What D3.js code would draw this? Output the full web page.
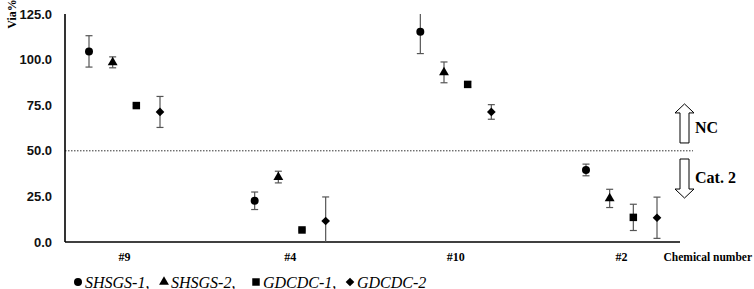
<!DOCTYPE html>
<html>
<head>
<meta charset="utf-8">
<script src="https://cdn.jsdelivr.net/npm/d3@7"></script>
<style>
  body { margin: 0; background: #fff; }
  svg { display: block; }
</style>
</head>
<body>
<script>
var width = 754;
var height = 289;

// data
var categories = ["#9", "#4", "#10", "#2"];
var seriesNames = ["SHSGS-1", "SHSGS-2", "GDCDC-1", "GDCDC-2"];
var shsgs1 = [104.5, 22.6, 115.3, 39.5];
var shsgs1Err = [8.6, 4.8, 12, 3.2];
var shsgs2 = [98.5, 35.6, 93, 23.9];
var shsgs2Err = [3, 3.2, 5.7, 5];
var gdcdc1 = [74.8, 6.6, 86.4, 13.5];
var gdcdc1Err = [0.8, 0.5, 1.5, 7.2];
var gdcdc2 = [71.3, 11.5, 71.3, 13.3];
var gdcdc2Err = [8.5, 13.2, 4, 11.3];
var yTicks = [0, 25, 50, 75, 100, 125];
var threshold = 50;

var series = [
  { name: seriesNames[0], values: shsgs1, errs: shsgs1Err, symbol: d3.symbolCircle, size: 50 },
  { name: seriesNames[1], values: shsgs2, errs: shsgs2Err, symbol: d3.symbolTriangle, size: 42 },
  { name: seriesNames[2], values: gdcdc1, errs: gdcdc1Err, symbol: d3.symbolSquare, size: 56 },
  { name: seriesNames[3], values: gdcdc2, errs: gdcdc2Err, symbol: d3.symbolDiamond2, size: 48 }
];

var plot = { left: 65, right: 680, top: 14, bottom: 242 };

var svg = d3.select("body").append("svg")
    .attr("width", width)
    .attr("height", height);

var yScale = d3.scaleLinear()
    .domain([0, 125])
    .range([plot.bottom, plot.top]);
var xGroup = d3.scaleLinear()
    .domain([0, categories.length - 1])
    .range([124.5, 621.5]);
var xSeries = d3.scalePoint()
    .domain(seriesNames)
    .range([-35.5, 35.5]);

// threshold dotted line
svg.append("line")
    .attr("x1", plot.left)
    .attr("x2", 693)
    .attr("y1", yScale(threshold))
    .attr("y2", yScale(threshold))
    .attr("stroke", "#333")
    .attr("stroke-width", 1)
    .attr("stroke-dasharray", "1.5,1.5");

// y axis
var yAxis = d3.axisLeft(yScale)
    .tickValues(yTicks)
    .tickSize(0)
    .tickPadding(13)
    .tickFormat(d3.format(".1f"));
var gy = svg.append("g")
    .attr("transform", "translate(" + plot.left + ",0)")
    .call(yAxis);
gy.select(".domain").remove();
gy.selectAll("text")
    .attr("font-family", "Liberation Sans, Arial, sans-serif")
    .attr("font-weight", "bold")
    .attr("font-size", 13)
    .attr("fill", "#111");

// axis lines
svg.append("line")
    .attr("x1", plot.left).attr("x2", plot.left)
    .attr("y1", plot.top).attr("y2", plot.bottom)
    .attr("stroke", "#000").attr("stroke-width", 1.6);
svg.append("line")
    .attr("x1", plot.left).attr("x2", plot.right)
    .attr("y1", plot.bottom).attr("y2", plot.bottom)
    .attr("stroke", "#000").attr("stroke-width", 1.6);

// category labels
svg.selectAll(".cat")
    .data(categories)
    .enter()
    .append("text")
    .attr("class", "cat")
    .attr("x", function(d, i) { return xGroup(i); })
    .attr("y", 261)
    .attr("text-anchor", "middle")
    .attr("font-family", "Liberation Serif, Times New Roman, serif")
    .attr("font-weight", "bold")
    .attr("font-size", 12)
    .text(function(d) { return d; });

svg.append("text")
    .attr("x", 752)
    .attr("y", 261)
    .attr("text-anchor", "end")
    .attr("font-family", "Liberation Serif, Times New Roman, serif")
    .attr("font-weight", "bold")
    .attr("font-size", 11.5)
    .text("Chemical number");

// y title
svg.append("text")
    .attr("transform", "translate(16,14) rotate(-90)")
    .attr("text-anchor", "middle")
    .attr("font-family", "Liberation Serif, Times New Roman, serif")
    .attr("font-weight", "bold")
    .attr("font-size", 12)
    .text("Via%");

// error bars and markers
var capW = 3.5;
series.forEach(function(s) {
  var g = svg.append("g").attr("class", "series");
  var pts = s.values.map(function(v, i) {
    return { x: xGroup(i) + xSeries(s.name), v: v, e: s.errs[i] };
  });
  var bars = g.selectAll(".err")
      .data(pts)
      .enter()
      .append("g")
      .attr("class", "err")
      .attr("stroke", "#555")
      .attr("stroke-width", 1.2);
  bars.append("line")
      .attr("x1", function(d) { return d.x; })
      .attr("x2", function(d) { return d.x; })
      .attr("y1", function(d) { return yScale(Math.min(125, d.v + d.e)); })
      .attr("y2", function(d) { return yScale(Math.max(0, d.v - d.e)); });
  bars.filter(function(d) { return d.v + d.e <= 125; })
      .append("line")
      .attr("x1", function(d) { return d.x - capW; })
      .attr("x2", function(d) { return d.x + capW; })
      .attr("y1", function(d) { return yScale(d.v + d.e); })
      .attr("y2", function(d) { return yScale(d.v + d.e); });
  bars.filter(function(d) { return d.v - d.e >= 0; })
      .append("line")
      .attr("x1", function(d) { return d.x - capW; })
      .attr("x2", function(d) { return d.x + capW; })
      .attr("y1", function(d) { return yScale(d.v - d.e); })
      .attr("y2", function(d) { return yScale(d.v - d.e); });

  g.selectAll(".mark")
      .data(pts)
      .enter()
      .append("path")
      .attr("class", "mark")
      .attr("d", d3.symbol().type(s.symbol).size(s.size))
      .attr("transform", function(d) { return "translate(" + d.x + "," + yScale(d.v) + ")"; })
      .attr("fill", "#000");
});

// NC / Cat. 2 arrows
function arrow(x, yFrom, yTo) {
  var shaft = 4.5, head = 9.5;
  var y0 = yScale(yFrom), y1 = yScale(yTo);
  var headLen = 9 * (y1 < y0 ? 1 : -1);
  var pts = [
    [x - shaft, y0], [x - shaft, y1 + headLen], [x - head, y1 + headLen],
    [x, y1], [x + head, y1 + headLen], [x + shaft, y1 + headLen], [x + shaft, y0]
  ];
  svg.append("path")
      .attr("d", d3.line()(pts) + "Z")
      .attr("fill", "#fff")
      .attr("stroke", "#000")
      .attr("stroke-width", 1);
}
arrow(684.5, 54.3, 75.7);
arrow(684.5, 45.5, 24.1);

svg.append("text")
    .attr("x", 695)
    .attr("y", yScale(63) + 6)
    .attr("font-family", "Liberation Serif, Times New Roman, serif")
    .attr("font-weight", "bold")
    .attr("font-size", 16)
    .text("NC");
svg.append("text")
    .attr("x", 695)
    .attr("y", yScale(35.6) + 6)
    .attr("font-family", "Liberation Serif, Times New Roman, serif")
    .attr("font-weight", "bold")
    .attr("font-size", 16)
    .text("Cat. 2");

// legend
var legendX = [78, 164, 256, 350];
var legend = svg.selectAll(".legend")
    .data(series)
    .enter()
    .append("g")
    .attr("class", "legend")
    .attr("transform", function(d, i) { return "translate(" + legendX[i] + ",282)"; });
legend.append("path")
    .attr("d", function(d) { return d3.symbol().type(d.symbol).size(d.size)(); })
    .attr("fill", "#000");
legend.append("text")
    .attr("x", 7)
    .attr("y", 5.5)
    .attr("font-family", "Liberation Serif, Times New Roman, serif")
    .attr("font-style", "italic")
    .attr("font-size", 16)
    .text(function(d, i) { return d.name + (i < series.length - 1 ? "," : ""); });
</script>
</body>
</html>
